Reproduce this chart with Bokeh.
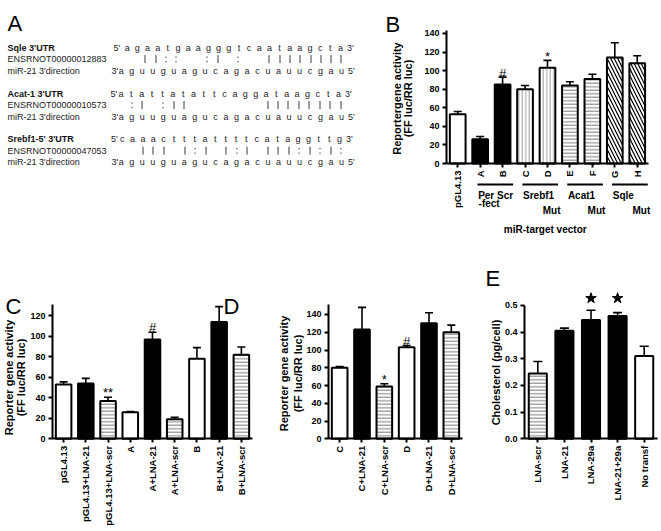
import math
from bokeh.plotting import figure
from bokeh.models import Range1d, FixedTicker, ColumnDataSource, PrintfTickFormatter
from bokeh.layouts import row, column
from bokeh.embed import file_html
from bokeh.resources import INLINE
from bokeh.core.properties import value

FONT = "Liberation Sans"

# ---------------- data ----------------
# Panel A: miR-21 seed alignments
a_headers = ["Sqle  3'UTR", "Acat-1 3'UTR", "Srebf1-5' 3'UTR"]
a_ids = ["ENSRNOT00000012883", "ENSRNOT00000010573", "ENSRNOT00000047053"]
a_mir_label = "miR-21 3'direction"
a_targets = ["agaatgaagggtcaataagcta", "atattatattcaggataagcta", "caaactttattttcataggttg"]
a_pairs = ["  ||::  :| :  ||||||||", " :| :||       ||||||||", "  ||| |:| |:| |||:|:|:"]
a_mir = "aguuguagucagacuauucgau"

# Panel B
b_cats = ["pGL4.13", "A", "B", "C", "D", "E", "F", "G", "H"]
b_vals = [53, 26, 85, 80, 103, 84, 91, 114, 108]
b_errs = [3, 3, 8, 4, 8, 4, 5, 16, 8]
b_fill = ["white", "black", "black", "vert", "vert", "horiz", "horiz", "diag", "diag"]
b_sig = ["", "", "#", "", "*", "", "", "", ""]
b_groups = ["Per Scr", "Srebf1", "Acat1", "Sqle"]
b_group_sub = ["-fect", "Mut", "Mut", "Mut"]
b_group_span = [(1, 2), (3, 4), (5, 6), (7, 8)]
b_ylabel = ["Reportergene activity", "(FF luc/RR luc)"]
b_xlabel = "miR-target vector"
b_yticks = [0, 20, 40, 60, 80, 100, 120, 140]

# Panel C
c_cats = ["pGL4.13", "pGL4.13+LNA-21", "pGL4.13+LNA-scr", "A", "A+LNA-21",
          "A+LNA-scr", "B", "B+LNA-21", "B+LNA-scr"]
c_vals = [53, 54, 37, 26, 97, 19, 78, 114, 82]
c_errs = [2.5, 5, 3.5, 0.5, 7, 2, 11, 15, 7.5]
c_fill = ["white", "black", "horiz", "white", "black", "horiz", "white", "black", "horiz"]
c_sig = ["", "", "**", "", "#", "", "", "", ""]
c_ylabel = ["Reporter gene activity", "(FF luc/RR luc)"]
c_yticks = [0, 20, 40, 60, 80, 100, 120]

# Panel D
d_cats = ["C", "C+LNA-21", "C+LNA-scr", "D", "D+LNA-21", "D+LNA-scr"]
d_vals = [80, 123, 59, 103, 130, 120]
d_errs = [1.5, 25, 3, 2, 12, 8]
d_fill = ["white", "black", "horiz", "white", "black", "horiz"]
d_sig = ["", "", "*", "#", "", ""]
d_ylabel = ["Reporter gene activity", "(FF luc/RR luc)"]
d_yticks = [0, 20, 40, 60, 80, 100, 120, 140]

# Panel E
e_cats = ["LNA-scr", "LNA-21", "LNA-29a", "LNA-21+29a", "No transf"]
e_vals = [0.245, 0.405, 0.445, 0.46, 0.31]
e_errs = [0.045, 0.01, 0.037, 0.013, 0.037]
e_fill = ["horiz", "black", "black", "black", "white"]
e_star = [False, False, True, True, False]
e_ylabel = ["Cholesterol (pg/cell)"]
e_yticks = [0.0, 0.1, 0.2, 0.3, 0.4, 0.5]

# ---------------- styles ----------------
STY = {
    "white": ("white", " ", "black", 4, 1),
    "black": ("black", " ", "black", 4, 1),
    "vert": ("white", "|", "#a0a0a0", 3.5, 1),
    "horiz": ("white", "-", "#7a7a7a", 3.5, 1),
    "diag": ("white", "\\", "black", 7, 1.2),
}


def panel_fig(W, H, L, T, pxa, xppu, py0, yppu):
    """Figure whose frame fills the canvas; X/Y convert page pixels to data."""
    def X(px):
        return -0.5 + (px - pxa) / xppu

    def Y(py):
        return (py0 - py) / yppu

    p = figure(width=W, height=H, output_backend="svg", toolbar_location=None, title=None,
               x_range=Range1d(X(L), X(L + W)), y_range=Range1d(Y(T + H), Y(T)),
               min_border_left=0, min_border_right=0, min_border_top=0, min_border_bottom=0,
               background_fill_color="white", border_fill_color="white")
    p.outline_line_color = None
    p.xgrid.visible = False
    p.ygrid.visible = False
    return p, X, Y


def style_axes(p, cats, yticks, ybounds, fmt=None):
    ya = p.yaxis[0]
    ya.ticker = FixedTicker(ticks=yticks)
    ya.bounds = ybounds
    ya.fixed_location = -0.5
    if fmt:
        ya.formatter = PrintfTickFormatter(format=fmt)
    xa = p.xaxis[0]
    xa.ticker = FixedTicker(ticks=list(range(len(cats))))
    xa.major_label_overrides = {i: c for i, c in enumerate(cats)}
    xa.major_label_orientation = math.pi / 2
    xa.bounds = (-0.5, len(cats) - 0.5)
    xa.fixed_location = 0
    for ax in (xa, ya):
        ax.axis_line_width = 2
        ax.axis_line_color = "black"
        ax.major_tick_line_width = 2
        ax.major_tick_out = 4
        ax.major_tick_in = 0
        ax.minor_tick_line_color = None
        ax.major_label_text_font = FONT
        ax.major_label_text_font_style = "bold"
        ax.major_label_text_color = "black"
        ax.major_label_standoff = 3
    xa.major_label_text_font_size = "9.5px"
    ya.major_label_text_font_size = "9px"


def draw_bars(p, vals, errs, fills, bar_w, cap_w):
    xs = list(range(len(vals)))
    ups = [v + e for v, e in zip(vals, errs)]
    src = ColumnDataSource(dict(
        x=xs, top=vals, up=ups,
        x0=[x - cap_w for x in xs], x1=[x + cap_w for x in xs],
        fill=[STY[f][0] for f in fills], hatch=[STY[f][1] for f in fills],
        hcol=[STY[f][2] for f in fills], hscale=[STY[f][3] for f in fills],
        hw=[STY[f][4] for f in fills]))
    p.segment(x0="x", y0="top", x1="x", y1="up", source=src, line_color="black", line_width=1.6)
    p.segment(x0="x0", y0="up", x1="x1", y1="up", source=src, line_color="black", line_width=1.6)
    p.vbar(x="x", top="top", bottom=0, width=bar_w, source=src, fill_color="fill",
           line_color="black", line_width=2, hatch_pattern="hatch", hatch_color="hcol",
           hatch_scale="hscale", hatch_weight="hw")
    return ups


def draw_sig(p, sig, ups, pad):
    idx = [i for i, s in enumerate(sig) if s]
    p.text(x=idx, y=[ups[i] + pad for i in idx], text=[sig[i] for i in idx],
           text_align="center", text_baseline="alphabetic", text_font=value(FONT),
           text_font_size="13px", text_color="black")


def txt(p, xs, ys, texts, size="10.5px", bold=True, align="left", baseline="alphabetic",
        angle=0.0, color="black"):
    p.text(x=xs, y=ys, text=texts, text_font=value(FONT), text_font_size=size,
           text_font_style="bold" if bold else "normal", text_align=align,
           text_baseline=baseline, angle=angle, text_color=color)


def ylabel(p, X, Y, lines, xs_px, yc_px):
    txt(p, [X(x) for x in xs_px], [Y(yc_px)] * len(lines), lines, size="11px",
        align="center", baseline="middle", angle=math.pi / 2)


# ---------------- Panel A ----------------
pa = figure(width=383, height=258, output_backend="svg", toolbar_location=None, title=None,
            x_range=Range1d(0, 383), y_range=Range1d(258, 0),
            x_axis_location=None, y_axis_location=None,
            min_border_left=0, min_border_right=0, min_border_top=0, min_border_bottom=0,
            background_fill_color="white", border_fill_color="white")
pa.outline_line_color = None
pa.xgrid.visible = False
pa.ygrid.visible = False

A_LABEL_X = 7
A_BLOCK_Y = [47, 93, 138.5]
A_DY = 11.6
A_TGT_START = [126.7, 120.5, 121.7]
A_TGT_END = [340, 338, 339]
A_TGT_PRE = [113, 110, 110.5]
A_MIR_START, A_MIR_END, A_MIR_PRE = 120.7, 341, 111

txt(pa, [7], [23], ["A"], size="22px", bold=False)

hx, hy, ht = [], [], []
nx, ny, nt = [], [], []
sx, sy, st = [], [], []
bar_x, bar_y = [], []     # '|' = Watson-Crick pair
dot_x, dot_y = [], []     # ':' = G-U wobble
for k in range(3):
    y0 = A_BLOCK_Y[k]
    hx.append(A_LABEL_X); hy.append(y0); ht.append(a_headers[k])
    nx += [A_LABEL_X, A_LABEL_X]; ny += [y0 + A_DY, y0 + 2 * A_DY]; nt += [a_ids[k], a_mir_label]
    n = len(a_targets[k])
    tpos = [A_TGT_START[k] + i * (A_TGT_END[k] - A_TGT_START[k]) / (n - 1) for i in range(n)]
    mpos = [A_MIR_START + i * (A_MIR_END - A_MIR_START) / (n - 1) for i in range(n)]
    for i in range(n):
        sx.append(tpos[i]); sy.append(y0); st.append(a_targets[k][i])
        sx.append(mpos[i]); sy.append(y0 + 2 * A_DY); st.append(a_mir[i])
        xm = round((tpos[i] + mpos[i]) / 2) + 0.5
        if a_pairs[k][i] == "|":
            bar_x.append(xm); bar_y.append(y0 + A_DY)
        elif a_pairs[k][i] == ":":
            dot_x.append(xm); dot_y.append(y0 + A_DY)
    nx += [A_TGT_PRE[k], tpos[-1] + 6.5, A_MIR_PRE, mpos[-1] + 6.5]
    ny += [y0, y0, y0 + 2 * A_DY, y0 + 2 * A_DY]
    nt += ["5'", "3'", "3'", "5'"]

txt(pa, hx, hy, ht, size="9px", baseline="middle", color="#111111")
txt(pa, nx, ny, nt, size="9px", bold=False, baseline="middle", color="#222222")
txt(pa, sx, sy, st, size="9px", bold=False, align="center", baseline="middle",
    color="#222222")
pa.segment(x0=bar_x, y0=[y - 4 for y in bar_y], x1=bar_x, y1=[y + 4 for y in bar_y],
           line_color="#3a3a3a", line_width=1)
pa.rect(x=dot_x + dot_x, y=[y - 2 for y in dot_y] + [y + 2.5 for y in dot_y],
        width=1.1, height=1.1, fill_color="#3a3a3a", line_color=None)

# ---------------- Panel B ----------------
pb, BX, BY = panel_fig(277, 258, 383, 0, 446, 22.44, 163, 0.929)
b_ups = draw_bars(pb, b_vals, b_errs, b_fill, 0.7, 0.18)
style_axes(pb, b_cats, b_yticks, (0, 143))
draw_sig(pb, b_sig, b_ups, 4.3)

gx0 = [s[0] - 0.12 for s in b_group_span]
gx1 = [s[1] + 0.47 for s in b_group_span]
pb.segment(x0=gx0, y0=[BY(184)] * 4, x1=gx1, y1=[BY(184)] * 4, line_color="black", line_width=2)
txt(pb, [s[0] - 0.09 for s in b_group_span], [BY(195)] * 4, b_groups, size="10px",
    baseline="middle")
txt(pb, [b_group_span[0][0] - 0.07], [BY(203)], [b_group_sub[0]], size="10px",
    baseline="middle")
txt(pb, [s[1] + 0.58 for s in b_group_span[1:]], [BY(209.5)] * 3, b_group_sub[1:],
    size="10px", align="right", baseline="middle")
txt(pb, [(len(b_cats) - 1) / 2 - 0.1], [BY(229)], [b_xlabel], size="10px", align="center",
    baseline="middle")
txt(pb, [BX(385)], [BY(24)], ["B"], size="22px", bold=False)
ylabel(pb, BX, BY, b_ylabel, [396, 407.5], 98)

# ---------------- Panel C ----------------
pc, CX, CY = panel_fig(256, 272, 0, 258, 52, 22.22, 438.3, 1.025)
c_ups = draw_bars(pc, c_vals, c_errs, c_fill, 0.7, 0.18)
style_axes(pc, c_cats, c_yticks, (0, 130.7))
draw_sig(pc, c_sig, c_ups, 4.5)
txt(pc, [CX(5), CX(223)], [CY(306), CY(306)], ["C", "D"], size="22px", bold=False)
ylabel(pc, CX, CY, c_ylabel, [8.5, 20.5], 377)

# ---------------- Panel D ----------------
pd_, DX, DY = panel_fig(214, 272, 256, 258, 328, 22.33, 438.3, 0.888)
d_ups = draw_bars(pd_, d_vals, d_errs, d_fill, 0.7, 0.18)
style_axes(pd_, d_cats, d_yticks, (0, 151))
draw_sig(pd_, d_sig, d_ups, 5)
ylabel(pd_, DX, DY, d_ylabel, [283, 297], 373)

# ---------------- Panel E ----------------
pe, EX, EY = panel_fig(190, 272, 470, 258, 524, 26.6, 438.3, 266.7)
e_ups = draw_bars(pe, e_vals, e_errs, e_fill, 0.68, 0.17)
style_axes(pe, e_cats, e_yticks, (0, 0.5), fmt="%.1f")
star_idx = [i for i, s in enumerate(e_star) if s]
star_y = max(e_ups[i] for i in star_idx) + 0.045
pe.scatter(x=star_idx, y=[star_y] * len(star_idx), marker="star", size=11,
           fill_color="black", line_color="black")
txt(pe, [EX(485)], [EY(278)], ["E"], size="22px", bold=False)
ylabel(pe, EX, EY, e_ylabel, [495], 372)

layout = column(row(pa, pb), row(pc, pd_, pe))
open("out.html", "w").write(file_html(layout, INLINE))
